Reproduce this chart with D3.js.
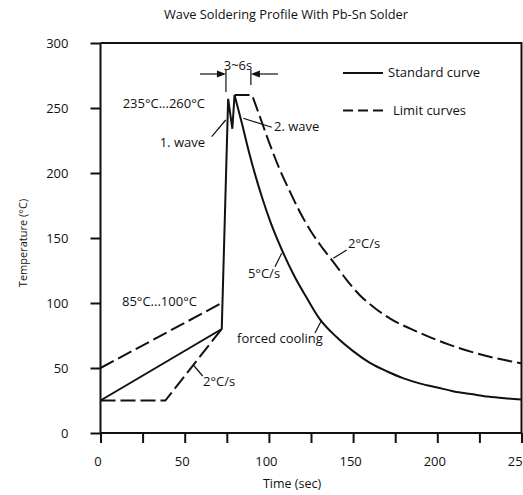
<!DOCTYPE html>
<html>
<head>
<meta charset="utf-8">
<script src="https://cdn.jsdelivr.net/npm/d3@7"></script>
<style>
  html, body { margin: 0; padding: 0; background: #fff; }
  svg { display: block; }
  text { font-family: "Open Sans", "DejaVu Sans", sans-serif; fill: #111; }
</style>
</head>
<body>
<svg id="chart" width="523" height="495"></svg>
<script>
// ---- data ----
const title = "Wave Soldering Profile With Pb-Sn Solder";
const xTicks = [0, 25, 50, 75, 100, 125, 150, 175, 200, 225, 250];
const xTickLabels = [0, 50, 100, 150, 200, 250];
const yTicks = [0, 50, 100, 150, 200, 250, 300];

// standard curve: preheat ramp + wave peaks (straight), then cooling (smooth)
const standardRise = [[0, 25], [72, 80], [75.8, 257], [78.3, 234], [79.6, 260]];
const standardCool = [[79.6, 260], [84, 238], [88, 217], [92, 198], [96, 181], [101, 162],
  [108, 140], [115, 121], [122, 105], [130, 88], [140, 74], [150, 63], [160, 54],
  [170, 47.5], [180, 42], [190, 38], [200, 35], [210, 32], [220, 30], [230, 28],
  [240, 26.7], [250, 25.8]];

// upper limit curve
const upperPreheat = [[0, 50], [72, 100]];
const upperPeak = [[79.6, 260], [90, 260]];
const upperCool = [[90, 260], [95, 242], [100, 224], [106, 204], [112, 187], [118, 171],
  [125, 155], [132, 142], [138, 132], [146, 118], [154, 106], [163, 96], [172, 88],
  [188, 78], [207, 68], [227, 60], [250, 53.6]];

// lower limit curve
const lowerPreheat = [[0, 25], [38.5, 25], [72, 80]];

// ---- chart ----
const svg = d3.select("#chart");
const x = d3.scaleLinear().domain([0, 250]).range([100.5, 521.5]);
const y = d3.scaleLinear().domain([0, 300]).range([433, 43]);

const lin = d3.line().x(d => x(d[0])).y(d => y(d[1])).curve(d3.curveLinear);
const smooth = d3.line().x(d => x(d[0])).y(d => y(d[1])).curve(d3.curveMonotoneX);
const join = (a, b) => a + "L" + b.slice(1);

// frame (top and right)
svg.append("path")
  .attr("d", `M${x(0)},${y(300)}H${x(250)}V${y(0)}`)
  .attr("fill", "none").attr("stroke", "#111").attr("stroke-width", 2);

// axes
const yAxis = svg.append("g").attr("transform", `translate(${x(0)},0)`)
  .call(d3.axisLeft(y).tickValues(yTicks).tickSize(10).tickPadding(22).tickFormat(d3.format("d")));
const xAxis = svg.append("g").attr("transform", `translate(0,${y(0)})`)
  .call(d3.axisBottom(x).tickValues(xTicks).tickSize(10).tickPadding(14)
    .tickFormat(d => xTickLabels.includes(d) ? d : ""));
[yAxis, xAxis].forEach(g => {
  g.select(".domain").attr("stroke", "#111").attr("stroke-width", 2);
  g.selectAll(".tick line").attr("stroke", "#111").attr("stroke-width", 2);
  g.selectAll(".tick text").style("font-family", '"Open Sans", sans-serif')
    .style("font-size", "13px").attr("fill", "#111");
});
xAxis.selectAll(".tick text").attr("dx", "-3");
yAxis.select(".domain").attr("d", `M0,${y(300)}V${y(0)}`);
xAxis.select(".domain").attr("d", `M${x(0)},0H${x(250)}`);

// curves
const g = svg.append("g").attr("fill", "none").attr("stroke", "#111").attr("stroke-width", 2)
  .attr("stroke-linejoin", "miter");
g.append("path").attr("d", join(lin(standardRise), smooth(standardCool)));
g.append("path").attr("d", lin(upperPreheat)).attr("stroke-dasharray", "15,5");
g.append("path").attr("d", join(lin(upperPeak), smooth(upperCool))).attr("stroke-dasharray", "15,5");
g.append("path").attr("d", lin(lowerPreheat)).attr("stroke-dasharray", "15,5");

// title + axis titles
svg.append("text").attr("x", 286).attr("y", 15).attr("dy", "0.35em")
  .attr("text-anchor", "middle").style("font-size", "12.8px").text(title);
svg.append("text").attr("x", 292).attr("y", 484).attr("dy", "0.35em")
  .attr("text-anchor", "middle").style("font-size", "12.5px").text("Time (sec)");
svg.append("text").attr("transform", "translate(23,243) rotate(-90)").attr("dy", "0.35em")
  .attr("text-anchor", "middle").style("font-size", "11px").text("Temperature (°C)");

// legend
const leg = svg.append("g");
leg.append("line").attr("x1", 343).attr("x2", 383).attr("y1", 73).attr("y2", 73)
  .attr("stroke", "#111").attr("stroke-width", 2);
leg.append("text").attr("x", 388).attr("y", 72).attr("dy", "0.35em")
  .style("font-size", "13px").text("Standard curve");
leg.append("line").attr("x1", 343).attr("x2", 383).attr("y1", 110.5).attr("y2", 110.5)
  .attr("stroke", "#111").attr("stroke-width", 2).attr("stroke-dasharray", "10,5");
leg.append("text").attr("x", 393).attr("y", 110).attr("dy", "0.35em")
  .style("font-size", "13px").text("Limit curves");

// annotations
const ann = svg.append("g").style("font-size", "13px");
const note = (tx, ty, s, anchor) => ann.append("text").attr("x", tx).attr("y", ty)
  .attr("dy", "0.35em").attr("text-anchor", anchor || "start").text(s);
const leader = (x1, y1, x2, y2) => svg.append("line").attr("x1", x1).attr("y1", y1)
  .attr("x2", x2).attr("y2", y2).attr("stroke", "#111").attr("stroke-width", 1.2);

note(238, 65, "3~6s", "middle");
note(205, 103, "235°C...260°C", "end");
note(205, 142, "1. wave", "end");
note(274, 126, "2. wave");
note(264, 273, "5°C/s", "middle");
note(348, 243, "2°C/s");
note(280, 338, "forced cooling", "middle");
note(122, 301, "85°C...100°C");
note(203, 381, "2°C/s");

leader(211.7, 136.7, 225.7, 120);
leader(243.3, 118.3, 271.7, 127.3);
leader(275, 266.7, 281.7, 253.3);
leader(333.3, 258.3, 346.7, 250);
leader(315, 333, 321.7, 320);
leader(193.3, 365, 202.7, 376);

// 3~6s dimension marks
const xa = x(74.5), xb = x(89.3), ya = 74;
leader(xa, 70, xa, 92);
leader(xb, 70, xb, 85);
leader(200, ya, xa - 7, ya);
leader(278, ya, xb + 7, ya);
svg.append("path").attr("d", `M${xa},${ya}L${xa - 9},${ya - 3.5}L${xa - 9},${ya + 3.5}Z`).attr("fill", "#111");
svg.append("path").attr("d", `M${xb},${ya}L${xb + 9},${ya - 3.5}L${xb + 9},${ya + 3.5}Z`).attr("fill", "#111");
</script>
</body>
</html>
